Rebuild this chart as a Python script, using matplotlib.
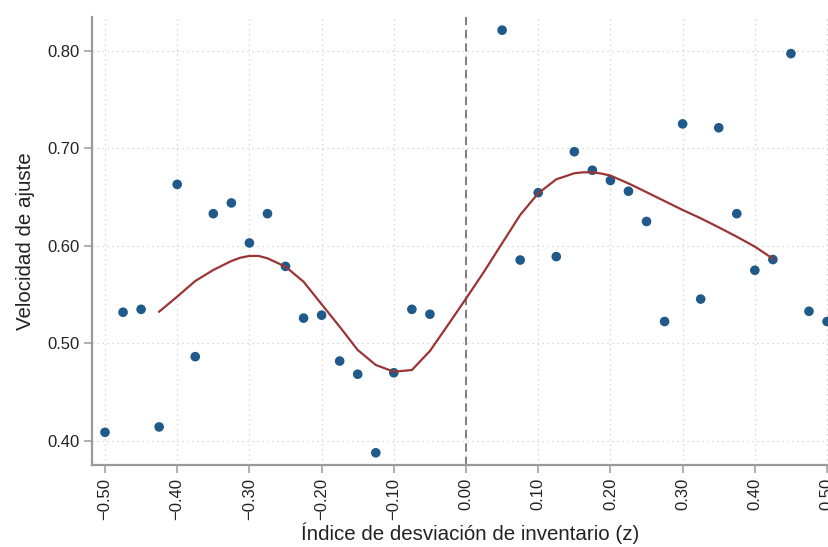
import matplotlib
matplotlib.use("Agg")
import matplotlib.pyplot as plt

plt.rcParams['font.family'] = ['Liberation Sans', 'DejaVu Sans']

# Observed adjustment speed by inventory deviation index
z_obs = [-0.500, -0.475, -0.450, -0.425, -0.400, -0.375, -0.350, -0.325, -0.300,
         -0.275, -0.250, -0.225, -0.200, -0.175, -0.150, -0.125, -0.100, -0.075,
         -0.050, 0.050, 0.075, 0.100, 0.125, 0.150, 0.175, 0.200, 0.225, 0.250,
         0.275, 0.300, 0.325, 0.350, 0.375, 0.400, 0.425, 0.450, 0.475, 0.500]
speed_obs = [0.409, 0.532, 0.535, 0.4145, 0.663, 0.4865, 0.633, 0.644, 0.603,
             0.633, 0.579, 0.526, 0.529, 0.482, 0.4685, 0.388, 0.470, 0.535,
             0.530, 0.821, 0.5855, 0.6545, 0.589, 0.6965, 0.6775, 0.667, 0.656,
             0.625, 0.5225, 0.725, 0.5455, 0.721, 0.633, 0.575, 0.586, 0.797,
             0.533, 0.5225]

# Smoothed fit
z_fit = [-0.425, -0.400, -0.375, -0.350, -0.325, -0.3125, -0.300, -0.2875, -0.275,
         -0.250, -0.225, -0.200, -0.175, -0.150, -0.125, -0.100, -0.075, -0.050,
         -0.025, 0.000, 0.025, 0.050, 0.075, 0.100, 0.125, 0.150, 0.1625, 0.175,
         0.1875, 0.200, 0.225, 0.250, 0.275, 0.300, 0.325, 0.350, 0.375, 0.400,
         0.425]
speed_fit = [0.5326, 0.5480, 0.5640, 0.5753, 0.5845, 0.5879, 0.5897, 0.5897, 0.5873,
             0.5787, 0.5633, 0.5402, 0.5172, 0.4933, 0.4780, 0.4711, 0.4728, 0.4923,
             0.5190, 0.5460, 0.5736, 0.6027, 0.6317, 0.6539, 0.6682, 0.6744, 0.6754,
             0.6754, 0.6741, 0.6720, 0.6640, 0.6550, 0.6459, 0.6368, 0.6283, 0.6190,
             0.6094, 0.5992, 0.5869]

x_ticks = [-0.5, -0.4, -0.3, -0.2, -0.1, 0.0, 0.1, 0.2, 0.3, 0.4, 0.5]
y_ticks = [0.4, 0.5, 0.6, 0.7, 0.8]

W, H = 829, 547
fig = plt.figure(figsize=(W / 100, H / 100), dpi=100)
left_px, right_px, top_px, bottom_px = 92, 848.7, 17, 465
ax = fig.add_axes([left_px / W, 1 - bottom_px / H,
                   (right_px - left_px) / W, (bottom_px - top_px) / H])

ax.set_xlim(-0.518, 0.530)
ax.set_ylim(0.3755, 0.8345)

grid_kw = dict(color='#cfcfcf', linestyle=(0, (1, 3)), linewidth=0.9, zorder=0)
for v in x_ticks:
    ax.axvline(v, **grid_kw)
for v in y_ticks:
    ax.axhline(v, **grid_kw)

ax.axvline(0.0, color='#6a6a6a', linestyle=(0, (5, 3)), linewidth=1.2, zorder=1)

ax.scatter(z_obs, speed_obs, s=48, color='#1f5a8b', edgecolors='none', zorder=3,
           clip_on=False)
ax.plot(z_fit, speed_fit, color='#9b3535', linewidth=1.6, zorder=4,
        solid_joinstyle='round')

for side in ('top', 'right'):
    ax.spines[side].set_visible(False)
for side in ('left', 'bottom'):
    ax.spines[side].set_color('#9a9a9a')
    ax.spines[side].set_linewidth(1.6)

ax.set_xticks(x_ticks)
ax.set_xticklabels([f"{v:.2f}".replace('-', '\u2212') for v in x_ticks],
                   rotation=90)
ax.set_yticks(y_ticks)
ax.set_yticklabels([f"{v:.2f}" for v in y_ticks])
ax.tick_params(axis='both', length=6, width=1.1, color='#9a9a9a',
               labelsize=12, labelcolor='#222222', pad=3)

ax.set_xlabel('Índice de desviación de inventario (z)', fontsize=14.8,
              color='#222222', labelpad=2)
ax.set_ylabel('Velocidad de ajuste', fontsize=14.8, color='#222222', labelpad=9)

fig.savefig('out.png', dpi=100)
